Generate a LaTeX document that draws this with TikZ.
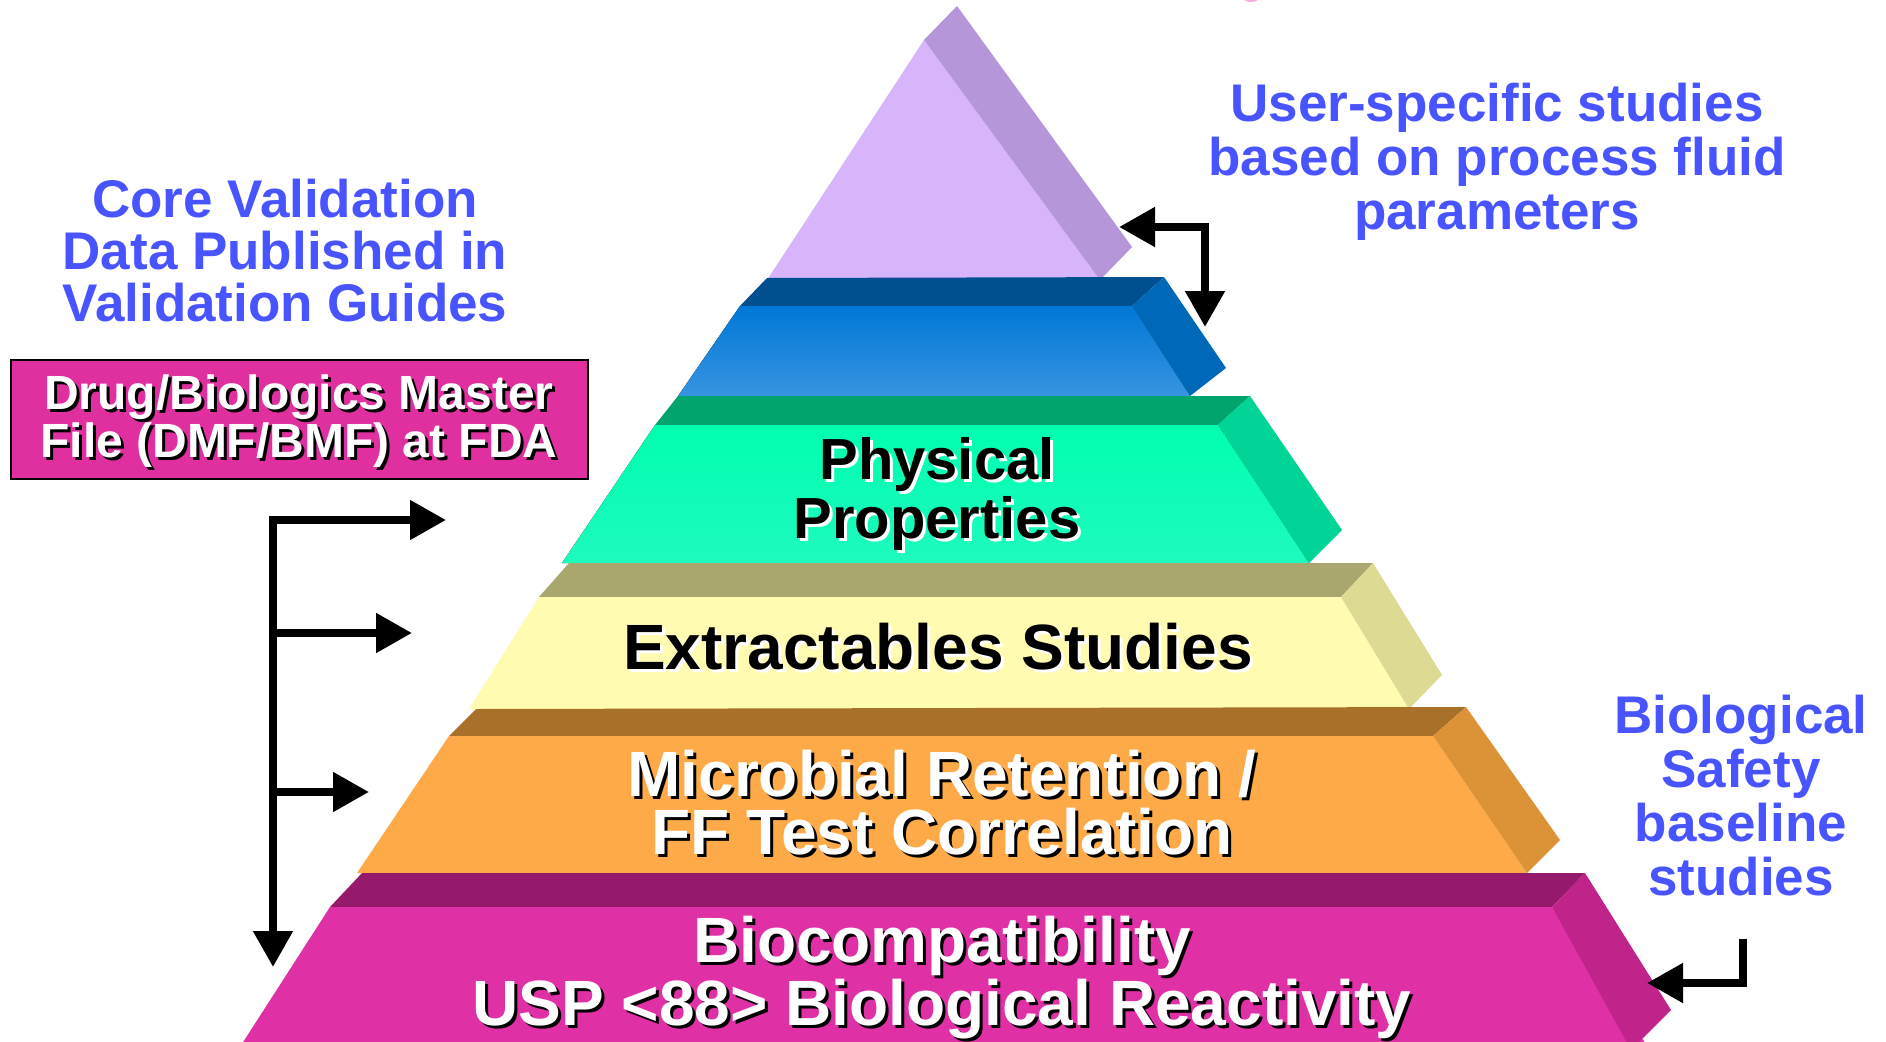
\documentclass[tikz,border=0pt]{standalone}
\usepackage{fontspec}
\setmainfont{Liberation Sans}
\usetikzlibrary{arrows.meta}
\definecolor{bluetxt}{RGB}{72,84,255}
\definecolor{lavF}{RGB}{216,180,250}\definecolor{lavS}{RGB}{181,150,216}
\definecolor{bluStrip}{RGB}{0,80,143}\definecolor{bluT}{RGB}{0,120,214}\definecolor{bluB}{RGB}{55,148,224}\definecolor{bluSide}{RGB}{0,104,184}
\definecolor{grnStrip}{RGB}{0,164,108}\definecolor{grnT}{RGB}{0,255,176}\definecolor{grnB}{RGB}{30,250,190}\definecolor{grnSide}{RGB}{0,212,150}
\definecolor{yelStrip}{RGB}{169,166,110}\definecolor{yelF}{RGB}{255,251,176}\definecolor{yelSide}{RGB}{221,218,148}
\definecolor{ornStrip}{RGB}{168,112,40}\definecolor{ornF}{RGB}{255,170,72}\definecolor{ornSide}{RGB}{220,147,56}
\definecolor{magStrip}{RGB}{150,26,107}\definecolor{magF}{RGB}{224,48,165}\definecolor{magSide}{RGB}{192,36,138}
\definecolor{boxF}{RGB}{224,48,160}
\definecolor{pinkmark}{RGB}{246,176,222}
\newcommand\shd[3]{\rlap{\hspace*{3pt}\raisebox{-3pt}{\color{#2}#3}}{\color{#1}#3}}
\tikzset{
  bluelbl/.style={anchor=base, inner sep=0pt, align=center, text=bluetxt, font=\bfseries\fontsize{53}{54}\selectfont},
  corelbl/.style={bluelbl, font=\bfseries\fontsize{53}{52}\selectfont},
  boxlbl/.style={anchor=base, inner sep=0pt, align=center, font=\bfseries\fontsize{48}{48}\selectfont},
  physlbl/.style={anchor=base, inner sep=0pt, align=center, font=\bfseries\fontsize{58}{53}\selectfont},
  microlbl/.style={anchor=base, inner sep=0pt, align=center, font=\bfseries\fontsize{64}{58}\selectfont},
  biglbl/.style={anchor=base, inner sep=0pt, align=center, font=\bfseries\fontsize{64}{63}\selectfont},
  conn/.style={line width=8pt, -{Triangle[length=36pt,width=38pt]}},
  conn2/.style={line width=8pt, {Triangle[length=36pt,width=38pt]}-{Triangle[length=36pt,width=38pt]}},
}
\begin{document}
\begin{tikzpicture}[x=1pt,y=-1pt]
\useasboundingbox (0,0) rectangle (1886,1041);
\clip (0,0) rectangle (1886,1041);
\fill[white] (0,0) rectangle (1886,1041);
% small pink mark at top edge
\fill[pinkmark] (1251,-1) ellipse [x radius=7, y radius=3];
% ---- lavender top
\fill[lavF] (924,40) -- (767,280) -- (1100,280) -- cycle;
\fill[lavS] (924,40) -- (957,6) -- (1132,247) -- (1100,280) -- cycle;
% ---- blue
\fill[bluStrip] (740,306) -- (767,278) -- (1164,277) -- (1132,306) -- cycle;
\fill[top color=bluT, bottom color=bluB] (740,306) -- (1132,306) -- (1190,396) -- (678,396) -- cycle;
\fill[bluSide] (1132,306) -- (1164,277) -- (1226,368) -- (1190,396) -- cycle;
% ---- green
\fill[grnStrip] (655,425) -- (678,396) -- (1250,396) -- (1218,425) -- cycle;
\fill[top color=grnT, bottom color=grnB] (655,425) -- (1218,425) -- (1309,563) -- (562,563) -- cycle;
\fill[grnSide] (1218,425) -- (1250,396) -- (1342,530) -- (1309,563) -- cycle;
% ---- yellow
\fill[yelStrip] (539,597) -- (569,563) -- (1373,563) -- (1341,597) -- cycle;
\fill[yelF] (539,597) -- (1341,597) -- (1409,709) -- (469,709) -- cycle;
\fill[yelSide] (1341,597) -- (1373,563) -- (1442,675) -- (1409,709) -- cycle;
% ---- orange
\fill[ornStrip] (449,736) -- (476,709) -- (1466,707) -- (1433,736) -- cycle;
\fill[ornF] (449,736) -- (1433,736) -- (1527,873) -- (357,873) -- cycle;
\fill[ornSide] (1433,736) -- (1466,707) -- (1560,840) -- (1527,873) -- cycle;
% ---- magenta
\fill[magStrip] (330,907) -- (362,873) -- (1585,873) -- (1552,907) -- cycle;
\fill[magF] (330,907) -- (1552,907) -- (1650,1050) -- (238,1050) -- cycle;
\fill[magSide] (1552,907) -- (1585,873) -- (1671,1010) -- (1631,1050) -- cycle;
% ---- pyramid labels (anchor = baseline of last line)
\node[physlbl] (phys) at (937,538) {\shd{black}{white}{Physical}\\\shd{black}{white}{Properties}};
\node[biglbl] (extr) at (938,669) {\shd{black}{white}{Extractables Studies}};
\node[microlbl] (micro) at (942,854) {\shd{white}{black}{Microbial Retention /}\\\shd{white}{black}{FF Test Correlation}};
\node[biglbl] (bio) at (942,1025) {\shd{white}{black}{Biocompatibility}\\\shd{white}{black}{USP <88> Biological Reactivity}};
% ---- blue captions
\node[corelbl] (core) at (285,321) {Core Validation\\Data Published in\\Validation Guides};
\node[bluelbl] (user) at (1497,229) {User-specific studies\\based on process fluid\\parameters};
\node[bluelbl] (bsafe) at (1741,895) {Biological\\Safety\\baseline\\studies};
% ---- DMF box
\node[draw=black, line width=2.5pt, fill=boxF, minimum width=577, minimum height=119, inner sep=0pt] (dmf) at (299.5,419.5) {};
\node[boxlbl] (dmftxt) at (299,457) {\shd{white}{black}{Drug/Biologics Master}\\\shd{white}{black}{File (DMF/BMF) at FDA}};
% ---- connectors
\coordinate (tA) at (1119,227);
\coordinate (cA) at (1205,227);
\coordinate (tB) at (1205,327);
\draw[conn2] (tA) -- (cA) -- (tB);
\coordinate (cR) at (1743,939);
\coordinate (kR) at (1743,983);
\coordinate (tR) at (1647,983);
\draw[conn] (cR) -- (kR) -- (tR);
\coordinate (L1) at (273,520);
\coordinate (L2) at (273,633);
\coordinate (L3) at (273,792);
\coordinate (Lb) at (273,967);
\coordinate (a1) at (446,520);
\coordinate (a2) at (412,633);
\coordinate (a3) at (369,792);
\draw[conn2] (a1) -- (L1) -- (Lb);
\draw[conn] (L2) -- (a2);
\draw[conn] (L3) -- (a3);
\end{tikzpicture}
\end{document}
